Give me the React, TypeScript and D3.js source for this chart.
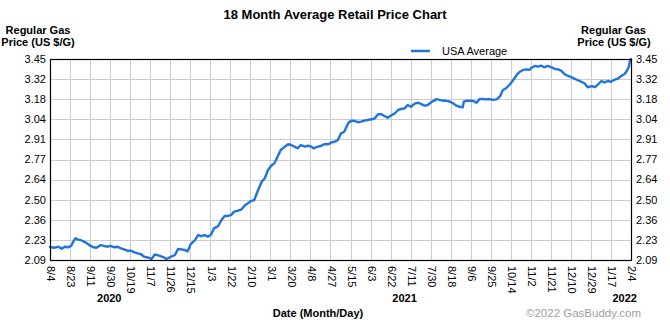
import React from "react";
import * as d3 from "d3";

const dates: string[] = [
  "2020-08-04","2020-08-08","2020-08-12","2020-08-15","2020-08-18","2020-08-21","2020-08-24","2020-08-26","2020-08-28","2020-08-30",
  "2020-09-02","2020-09-05","2020-09-08","2020-09-11","2020-09-14","2020-09-17","2020-09-21","2020-09-24","2020-09-27","2020-09-30",
  "2020-10-04","2020-10-07","2020-10-10","2020-10-13","2020-10-16","2020-10-19","2020-10-23","2020-10-26","2020-10-29","2020-11-01",
  "2020-11-04","2020-11-08","2020-11-11","2020-11-15","2020-11-19","2020-11-22","2020-11-27","2020-11-30","2020-12-03","2020-12-06",
  "2020-12-09","2020-12-12","2020-12-15","2020-12-19","2020-12-22","2020-12-25","2020-12-28","2020-12-31","2021-01-03","2021-01-06",
  "2021-01-10","2021-01-13","2021-01-16","2021-01-19","2021-01-22","2021-01-25","2021-01-28","2021-02-01","2021-02-04","2021-02-07",
  "2021-02-10","2021-02-13","2021-02-16","2021-02-20","2021-02-23","2021-02-26","2021-03-01","2021-03-04","2021-03-07","2021-03-10",
  "2021-03-14","2021-03-17","2021-03-20","2021-03-23","2021-03-26","2021-03-29","2021-04-02","2021-04-05","2021-04-08","2021-04-10",
  "2021-04-14","2021-04-17","2021-04-20","2021-04-24","2021-04-27","2021-04-30","2021-05-03","2021-05-06","2021-05-09","2021-05-13",
  "2021-05-16","2021-05-19","2021-05-22","2021-05-25","2021-05-28","2021-05-31","2021-06-04","2021-06-07","2021-06-10","2021-06-13",
  "2021-06-16","2021-06-19","2021-06-23","2021-06-26","2021-06-29","2021-07-02","2021-07-05","2021-07-08","2021-07-11","2021-07-15",
  "2021-07-18","2021-07-21","2021-07-24","2021-07-27","2021-07-30","2021-08-02","2021-08-04","2021-08-07","2021-08-10","2021-08-13",
  "2021-08-17","2021-08-20","2021-08-23","2021-08-26","2021-08-29","2021-08-30","2021-09-02","2021-09-05","2021-09-08","2021-09-11",
  "2021-09-14","2021-09-17","2021-09-20","2021-09-23","2021-09-27","2021-09-30","2021-10-03","2021-10-06","2021-10-09","2021-10-12",
  "2021-10-15","2021-10-19","2021-10-22","2021-10-25","2021-10-28","2021-10-31","2021-11-02","2021-11-05","2021-11-08","2021-11-11",
  "2021-11-14","2021-11-17","2021-11-21","2021-11-24","2021-11-27","2021-11-30","2021-12-03","2021-12-06","2021-12-10","2021-12-13",
  "2021-12-16","2021-12-19","2021-12-22","2021-12-25","2021-12-29","2022-01-01","2022-01-04","2022-01-07","2022-01-10","2022-01-13",
  "2022-01-16","2022-01-19","2022-01-23","2022-01-26","2022-01-29","2022-01-31","2022-02-02","2022-02-03","2022-02-04"
];

const prices: number[] = [
  2.180,2.175,2.182,2.168,2.182,2.178,2.187,2.216,2.239,2.232,
  2.227,2.216,2.205,2.189,2.178,2.175,2.193,2.187,2.182,2.187,
  2.178,2.182,2.171,2.164,2.155,2.155,2.144,2.137,2.131,2.114,
  2.110,2.099,2.129,2.122,2.112,2.099,2.116,2.126,2.166,2.164,
  2.160,2.150,2.200,2.227,2.261,2.254,2.261,2.250,2.261,2.306,
  2.322,2.363,2.390,2.390,2.396,2.419,2.424,2.435,2.461,2.476,
  2.491,2.498,2.554,2.622,2.645,2.701,2.730,2.746,2.791,2.836,
  2.859,2.875,2.870,2.859,2.848,2.870,2.859,2.865,2.859,2.848,
  2.859,2.863,2.875,2.875,2.888,2.892,2.904,2.949,2.960,3.021,
  3.035,3.033,3.024,3.028,3.035,3.039,3.044,3.051,3.078,3.078,
  3.066,3.055,3.073,3.085,3.107,3.114,3.118,3.141,3.129,3.152,
  3.156,3.147,3.136,3.141,3.159,3.170,3.181,3.175,3.170,3.170,
  3.163,3.152,3.136,3.129,3.125,3.163,3.170,3.170,3.168,3.156,
  3.181,3.181,3.179,3.181,3.175,3.179,3.197,3.242,3.254,3.276,
  3.303,3.344,3.366,3.378,3.382,3.378,3.393,3.405,3.400,3.407,
  3.396,3.405,3.396,3.384,3.382,3.373,3.351,3.339,3.328,3.317,
  3.308,3.298,3.288,3.261,3.269,3.261,3.281,3.303,3.294,3.303,
  3.298,3.310,3.321,3.339,3.351,3.371,3.400,3.438,3.452
];

const xTickLabels: string[] = [
  "8/4","8/23","9/11","9/30","10/19","11/7","11/26","12/15","1/3","1/22",
  "2/10","3/1","3/20","4/8","4/27","5/15","6/3","6/22","7/11","7/30",
  "8/18","9/6","9/25","10/14","11/2","11/21","12/10","12/29","1/17","2/4"
];

const yTickLabels: string[] = ["2.09","2.23","2.36","2.50","2.64","2.77","2.91","3.04","3.18","3.32","3.45"];

const yearLabels: string[] = ["2020", "2021", "2022"];
const yearAnchors: string[] = ["2020-09-29", "2021-07-05", "2022-01-29"];

const dateDomain: string[] = ["2020-08-04", "2022-02-04"];
const priceDomain: number[] = [2.092, 3.452];
const seriesName = "USA Average";

const W = 670;
const H = 325;
const M = { left: 50, right: 631, top: 59, bottom: 260 };
const FONT = "'Liberation Sans', Arial, Helvetica, sans-serif";
const BLUE = "#1f74de";

export default function App() {
  const parse = d3.timeParse("%Y-%m-%d");
  const data = dates.map((d, i) => ({ date: parse(d) as Date, value: prices[i] }));

  const x = d3
    .scaleTime()
    .domain(dateDomain.map((d) => parse(d) as Date))
    .range([M.left, M.right]);
  const y = d3.scaleLinear().domain(priceDomain).range([M.bottom, M.top]);

  const xTick = d3.scalePoint<string>().domain(xTickLabels).range([M.left, M.right]);
  const yTick = d3.scalePoint<string>().domain(yTickLabels).range([M.bottom, M.top]);

  const line = d3
    .line<{ date: Date; value: number }>()
    .x((d) => x(d.date))
    .y((d) => y(d.value))
    .curve(d3.curveLinear);

  const crisp = (v: number) => Math.round(v) + 0.5;

  return (
    <svg
      width={W}
      height={H}
      style={{ position: "absolute", left: 0, top: 0, background: "#fff" }}
      fontFamily={FONT}
    >
      <rect x={0} y={0} width={W} height={H} fill="#fff" />
      <text x={335} y={18.5} textAnchor="middle" fontSize={13} fontWeight="bold" fill="#000">
        18 Month Average Retail Price Chart
      </text>

      {/* axis titles */}
      <text x={38} y={34} textAnchor="middle" fontSize={11} fontWeight="bold">Regular Gas</text>
      <text x={38} y={46} textAnchor="middle" fontSize={11} fontWeight="bold">Price (US $/G)</text>
      <text x={613.5} y={34} textAnchor="middle" fontSize={11} fontWeight="bold">Regular Gas</text>
      <text x={614} y={46} textAnchor="middle" fontSize={11} fontWeight="bold">Price (US $/G)</text>

      {/* legend */}
      <line x1={411} x2={430} y1={51} y2={51} stroke={BLUE} strokeWidth={2.5} />
      <text x={442} y={54.5} fontSize={11} fill="#000">{seriesName}</text>

      {/* grid */}
      {xTickLabels.map((t) => (
        <line key={"gx" + t} x1={crisp(xTick(t)!)} x2={crisp(xTick(t)!)} y1={M.top} y2={M.bottom} stroke="#cccccc" strokeWidth={1} />
      ))}
      {yTickLabels.map((t) => (
        <line key={"gy" + t} x1={M.left} x2={M.right} y1={crisp(yTick(t)!)} y2={crisp(yTick(t)!)} stroke="#cccccc" strokeWidth={1} />
      ))}

      {/* series */}
      <path d={line(data) || ""} fill="none" stroke={BLUE} strokeWidth={2.4} strokeLinejoin="round" strokeLinecap="round" />

      {/* frame */}
      <rect x={M.left + 0.5} y={M.top + 0.5} width={M.right - M.left} height={M.bottom - M.top} fill="none" stroke="#000" strokeWidth={1.2} />

      {/* y tick labels */}
      {yTickLabels.map((t) => (
        <g key={"yl" + t}>
          <text x={46} y={yTick(t)!} dy="0.35em" textAnchor="end" fontSize={11}>{t}</text>
          <text x={636} y={yTick(t)!} dy="0.35em" textAnchor="start" fontSize={11}>{t}</text>
        </g>
      ))}

      {/* x tick labels */}
      {xTickLabels.map((t) => (
        <text
          key={"xl" + t}
          transform={`translate(${xTick(t)},266) rotate(90)`}
          dy="0.25em"
          fontSize={11}
          textAnchor="start"
        >
          {t}
        </text>
      ))}

      {/* year labels */}
      {yearLabels.map((yl, i) => (
        <text key={yl} x={x(parse(yearAnchors[i]) as Date)} y={302} textAnchor="middle" fontSize={11} fontWeight="bold">
          {yl}
        </text>
      ))}

      <text x={318} y={317} textAnchor="middle" fontSize={11} fontWeight="bold">Date (Month/Day)</text>
      <text x={641} y={317} textAnchor="end" fontSize={11.5} fill="#a0a0a0">©2022 GasBuddy.com</text>
    </svg>
  );
}
